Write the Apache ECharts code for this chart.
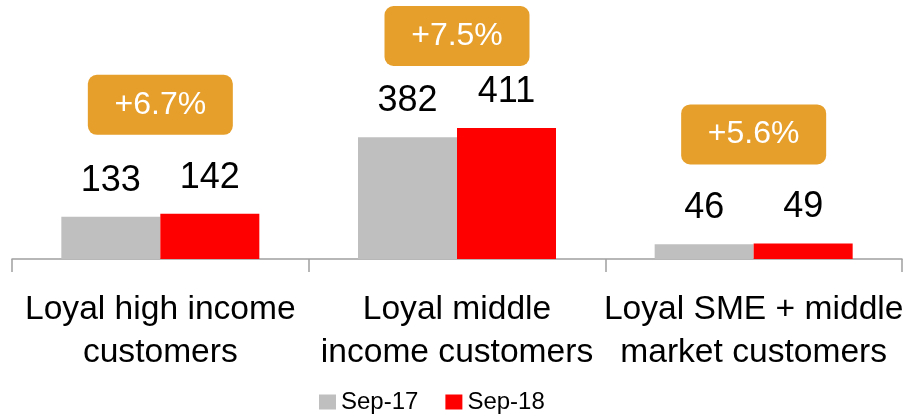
<!DOCTYPE html>
<html>
<head>
<meta charset="utf-8">
<script src="https://cdn.jsdelivr.net/npm/echarts@6/dist/echarts.min.js"></script>
<style>
  html, body { margin: 0; padding: 0; background: #fff; }
  #main { width: 903px; height: 416px; }
</style>
</head>
<body>
<div id="main"></div>
<script>
const categories = ['Loyal high income\ncustomers', 'Loyal middle\nincome customers', 'Loyal SME + middle\nmarket customers'];
const sep17 = [133, 382, 46];
const sep18 = [142, 411, 49];
const growth = ['+6.7%', '+7.5%', '+5.6%'];
const seriesNames = ['Sep-17', 'Sep-18'];

const font = '"Liberation Sans", Arial, sans-serif';

const initChart = () => {
    var chartDom = document.getElementById('main');
    var myChart = echarts.init(chartDom);
    const option = {
        animation: false,
        textStyle: { fontFamily: font },
        grid: {
            left: 12,
            right: 1,
            top: 0,
            bottom: 157,
            outerBoundsMode: 'none'
        },
        legend: {
            top: 385,
            left: 314,
            itemWidth: 17,
            itemHeight: 15,
            itemGap: 27,
            icon: 'rect',
            textStyle: { fontSize: 24, color: '#000', fontFamily: font },
            data: seriesNames
        },
        xAxis: {
            type: 'category',
            data: categories,
            axisLine: { show: true, lineStyle: { color: '#A0A0A0', width: 1.5 } },
            axisTick: { show: true, alignWithLabel: false, length: 13, lineStyle: { color: '#A0A0A0', width: 1.5 } },
            axisLabel: {
                interval: 0,
                margin: 29,
                fontSize: 33.6,
                lineHeight: 43,
                color: '#000',
                fontFamily: font
            }
        },
        yAxis: {
            type: 'value',
            min: 0,
            max: 813,
            show: false,
            splitLine: { show: false }
        },
        series: [
            {
                name: seriesNames[0],
                type: 'bar',
                data: sep17,
                barWidth: 99,
                barGap: '0%',
                itemStyle: { color: '#BFBFBF' },
                label: {
                    show: true,
                    position: 'top',
                    distance: 18,
                    fontSize: 36,
                    color: '#000',
                    fontFamily: font
                }
            },
            {
                name: seriesNames[1],
                type: 'bar',
                data: sep18,
                barWidth: 99,
                barGap: '0%',
                itemStyle: { color: '#FF0000' },
                label: {
                    show: true,
                    position: 'top',
                    distance: 18,
                    fontSize: 36,
                    color: '#000',
                    fontFamily: font
                }
            },
            {
                name: 'growth',
                type: 'custom',
                silent: true,
                data: categories.map((c, i) => [i, Math.max(sep17[i], sep18[i])]),
                renderItem: function (params, api) {
                    const pt = api.coord([api.value(0), api.value(1)]);
                    const w = 145, h = 60;
                    // box sits above the taller bar, but never leaves the top of the chart
                    const bottom = Math.max(pt[1] - 79, 66);
                    return {
                        type: 'group',
                        children: [
                            {
                                type: 'rect',
                                shape: { x: pt[0] - w / 2, y: bottom - h, width: w, height: h, r: 9 },
                                style: { fill: '#E69F2B' }
                            },
                            {
                                type: 'text',
                                style: {
                                    text: growth[params.dataIndex],
                                    x: pt[0],
                                    y: bottom - h / 2,
                                    align: 'center',
                                    verticalAlign: 'middle',
                                    fill: '#fff',
                                    fontSize: 32,
                                    fontFamily: font
                                }
                            }
                        ]
                    };
                }
            }
        ]
    };
    myChart.setOption(option);
};
initChart();
</script>
</body>
</html>
